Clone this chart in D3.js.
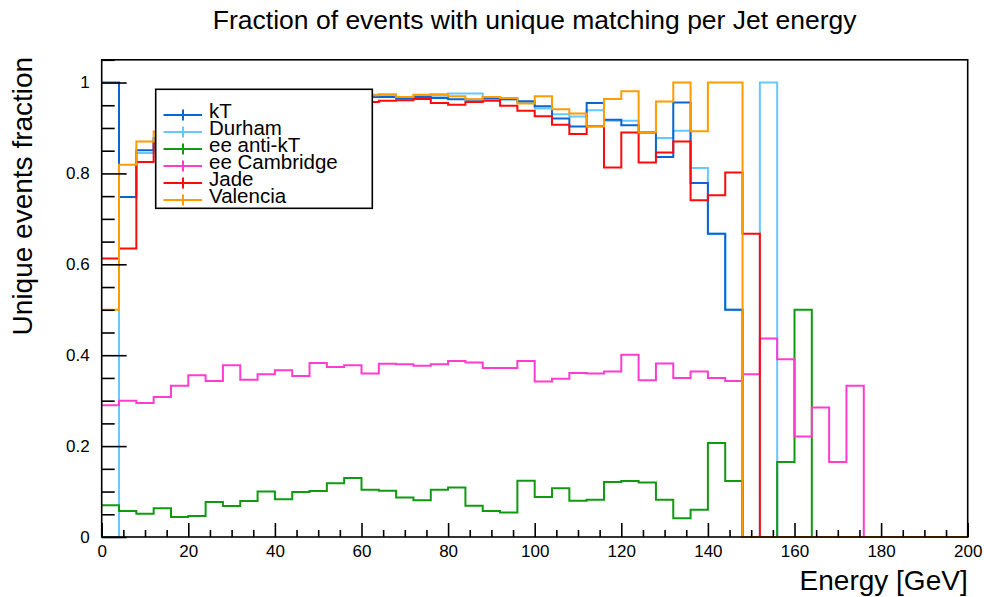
<!DOCTYPE html>
<html>
<head>
<meta charset="utf-8">
<script src="https://cdn.jsdelivr.net/npm/d3@7"></script>
<style>
  html, body { margin: 0; padding: 0; background: #fff; }
  svg { display: block; font-family: "Liberation Sans", Arial, Helvetica, sans-serif; }
</style>
</head>
<body>
<svg id="chart" width="984" height="597"></svg>
<script>
// Energy binning: 50 bins of 4 GeV from 0 to 200 GeV
const binEdges = d3.range(0, 204, 4);

// Fraction of events with a unique matching, one value per energy bin
const kT = [1.0, 0.748, 0.851, 0.878, 0.91, 0.93, 0.94, 0.95, 0.955, 0.96, 0.962, 0.965, 0.966, 0.967, 0.968,
  0.968, 0.968, 0.965, 0.968, 0.966, 0.963, 0.962, 0.965, 0.964, 0.959, 0.948, 0.921, 0.903, 0.955, 0.918,
  0.906, 0.890, 0.836, 0.956, 0.779, 0.667, 0.5, 0, 0, 0, 0, 0, 0, 0, 0, 0, 0, 0, 0, 0];
const durham = [0, 0.748, 0.845, 0.875, 0.91, 0.935, 0.945, 0.955, 0.96, 0.963, 0.966, 0.968, 0.97, 0.971, 0.972,
  0.973, 0.972, 0.968, 0.972, 0.971, 0.976, 0.976, 0.966, 0.962, 0.956, 0.943, 0.930, 0.925, 0.939, 0.916,
  0.916, 0.890, 0.878, 0.894, 0.812, 0.667, 0.5, 0, 1.0, 0, 0, 0, 0, 0, 0, 0, 0, 0, 0, 0];
const eeAntiKT = [0.070, 0.057, 0.051, 0.063, 0.044, 0.046, 0.077, 0.068, 0.079, 0.100, 0.083, 0.099, 0.101, 0.118, 0.130,
  0.104, 0.102, 0.087, 0.081, 0.104, 0.109, 0.069, 0.057, 0.054, 0.124, 0.088, 0.107, 0.080, 0.082, 0.121,
  0.123, 0.120, 0.082, 0.041, 0.060, 0.207, 0.123, 0, 0, 0.165, 0.5, 0, 0, 0, 0, 0, 0, 0, 0, 0];
const eeCambridge = [0.290, 0.300, 0.295, 0.308, 0.333, 0.356, 0.343, 0.378, 0.346, 0.358, 0.367, 0.354, 0.383, 0.374, 0.378,
  0.360, 0.381, 0.380, 0.377, 0.380, 0.387, 0.384, 0.372, 0.372, 0.387, 0.342, 0.348, 0.361, 0.360, 0.364,
  0.401, 0.345, 0.382, 0.350, 0.364, 0.350, 0.343, 0.358, 0.437, 0.391, 0.221, 0.285, 0.165, 0.333, 0, 0, 0, 0, 0, 0];
const jade = [0.613, 0.635, 0.825, 0.868, 0.90, 0.92, 0.93, 0.94, 0.945, 0.95, 0.952, 0.954, 0.955, 0.956, 0.957,
  0.957, 0.960, 0.961, 0.964, 0.955, 0.951, 0.957, 0.960, 0.949, 0.938, 0.926, 0.907, 0.887, 0.904, 0.813,
  0.890, 0.824, 0.846, 0.870, 0.741, 0.752, 0.802, 0.667, 0, 0, 0, 0, 0, 0, 0, 0, 0, 0, 0, 0];
const valencia = [0.5, 0.819, 0.870, 0.892, 0.92, 0.94, 0.95, 0.96, 0.965, 0.968, 0.97, 0.971, 0.972, 0.972, 0.973,
  0.972, 0.974, 0.968, 0.973, 0.974, 0.970, 0.963, 0.968, 0.966, 0.954, 0.970, 0.941, 0.932, 0.903, 0.964,
  0.981, 0.890, 0.958, 1.0, 0.893, 1.0, 1.0, 0, 0, 0, 0, 0, 0, 0, 0, 0, 0, 0, 0, 0];

const seriesNames = ["kT", "Durham", "ee anti-kT", "ee Cambridge", "Jade", "Valencia"];
const seriesValues = [kT, durham, eeAntiKT, eeCambridge, jade, valencia];
const seriesColors = ["#0a64d2", "#66c8ff", "#109a10", "#ff3cd2", "#ff0a0a", "#ff9c00"];
// Painting order of the histograms (Durham sits underneath kT)
const drawOrder = [1, 0, 2, 3, 4, 5];

const xTickValues = d3.range(0, 220, 20);
const yTickValues = [0, 0.2, 0.4, 0.6, 0.8, 1];
const yTickLabels = ["0", "0.2", "0.4", "0.6", "0.8", "1"];

const titleText = "Fraction of events with unique matching per Jet energy";
const xTitle = "Energy [GeV]";
const yTitle = "Unique events fraction";

// Frame geometry
const frame = { left: 101.7, right: 967.7, top: 59.8, bottom: 537 };

const svg = d3.select("#chart");
const x = d3.scaleLinear().domain([0, 200]).range([frame.left, frame.right]);
const y = d3.scaleLinear().domain([0, 1.05]).range([frame.bottom, frame.top]);

// Step outline of a histogram: each bin contributes its left and right edge at the bin content
function stepPoints(vals) {
  const pts = [];
  vals.forEach((v, i) => {
    pts.push([binEdges[i], v]);
    pts.push([binEdges[i + 1], v]);
  });
  return pts;
}
const line = d3.line().x(d => x(d[0])).y(d => y(d[1]));

const hists = svg.append("g").attr("class", "histograms");
drawOrder.forEach(k => {
  hists.append("path")
    .attr("d", line(stepPoints(seriesValues[k])))
    .attr("fill", "none")
    .attr("stroke", seriesColors[k])
    .attr("stroke-width", 2)
    .attr("stroke-linejoin", "miter");
});

// Axes with inward-pointing ticks
const yMajor = d3.axisLeft(y).tickValues(yTickValues)
  .tickFormat((d, i) => yTickLabels[i]).tickSize(-25).tickSizeOuter(0).tickPadding(12);
const yMinor = d3.axisLeft(y).tickValues(d3.range(0, 1.06, 0.05).filter(v => Math.abs(v * 5 - Math.round(v * 5)) > 1e-6))
  .tickFormat("").tickSize(-13).tickSizeOuter(0);
const xMajor = d3.axisBottom(x).tickValues(xTickValues).tickFormat(d3.format("d"))
  .tickSize(-14).tickSizeOuter(0).tickPadding(8);
const xMinor = d3.axisBottom(x).tickValues(d3.range(0, 201, 5).filter(v => v % 20 !== 0))
  .tickFormat("").tickSize(-7).tickSizeOuter(0);

function styleAxis(g) {
  g.selectAll("path.domain").remove();
  g.selectAll("line").attr("stroke", "#000").attr("stroke-width", 1.6);
  g.selectAll("text").attr("fill", "#000").style("font-size", "17px")
    .style("font-family", "'Liberation Sans', Arial, sans-serif");
}
svg.append("g").attr("transform", `translate(${frame.left},0)`).call(yMajor).call(styleAxis);
svg.append("g").attr("transform", `translate(${frame.left},0)`).call(yMinor).call(styleAxis);
svg.append("g").attr("transform", `translate(0,${frame.bottom})`).call(xMajor).call(styleAxis);
svg.append("g").attr("transform", `translate(0,${frame.bottom})`).call(xMinor).call(styleAxis);

// Frame
svg.append("rect")
  .attr("x", frame.left).attr("y", frame.top)
  .attr("width", frame.right - frame.left).attr("height", frame.bottom - frame.top)
  .attr("fill", "none").attr("stroke", "#000").attr("stroke-width", 1.6);

// Titles
svg.append("text")
  .attr("x", (frame.left + frame.right) / 2).attr("y", 29)
  .attr("text-anchor", "middle").style("font-size", "26.5px")
  .text(titleText);
svg.append("text")
  .attr("x", frame.right).attr("y", 590)
  .attr("text-anchor", "end").style("font-size", "28px")
  .text(xTitle);
svg.append("text")
  .attr("transform", `translate(31.5,${frame.top - 3}) rotate(-90)`)
  .attr("text-anchor", "end").style("font-size", "28px")
  .text(yTitle);

// Legend
const legend = { x: 155.7, y: 89.3, w: 216.6, h: 119 };
const lg = svg.append("g").attr("class", "legend");
lg.append("rect")
  .attr("x", legend.x).attr("y", legend.y).attr("width", legend.w).attr("height", legend.h)
  .attr("fill", "#fff").attr("stroke", "#000").attr("stroke-width", 1.6);
const rowY = d3.scaleLinear().domain([0, 5]).range([115, 200]);
seriesNames.forEach((name, k) => {
  const cy = rowY(k);
  lg.append("line").attr("x1", 163.5).attr("x2", 202).attr("y1", cy).attr("y2", cy)
    .attr("stroke", seriesColors[k]).attr("stroke-width", 2);
  lg.append("line").attr("x1", 183).attr("x2", 183).attr("y1", cy - 5.5).attr("y2", cy + 5.5)
    .attr("stroke", seriesColors[k]).attr("stroke-width", 2);
  lg.append("text").attr("x", 209).attr("y", cy + 3)
    .style("font-size", "20.5px").text(name);
});
</script>
</body>
</html>
